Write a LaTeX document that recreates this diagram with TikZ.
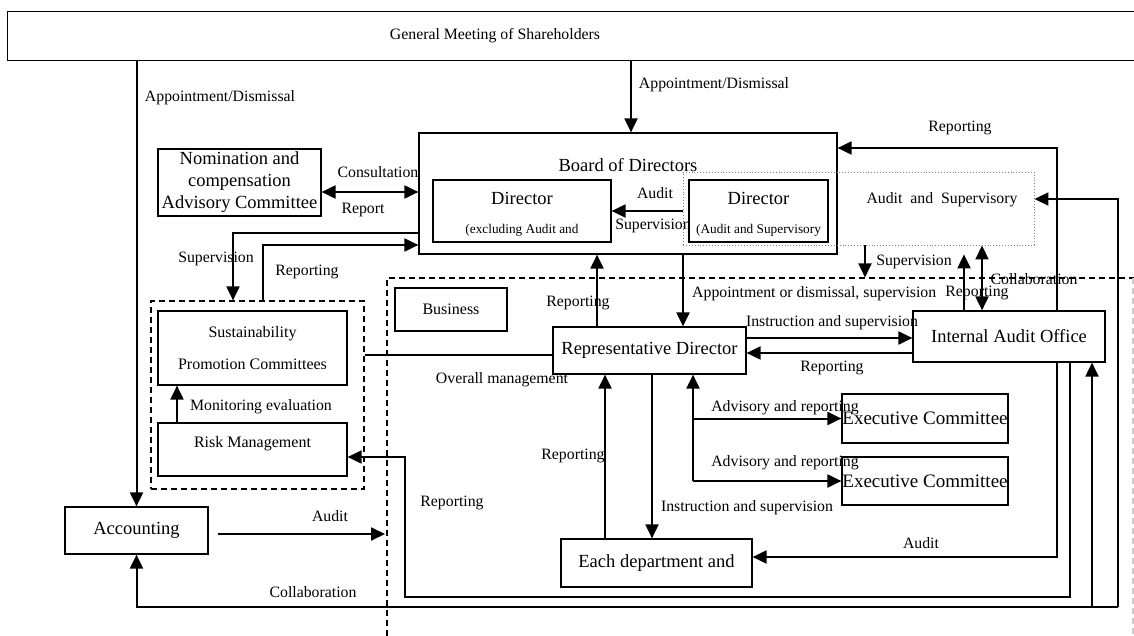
\documentclass[tikz,border=0pt]{standalone}
\usepackage{fontspec}
\setmainfont{Liberation Serif}
\usetikzlibrary{arrows.meta,positioning}

\tikzset{
  box/.style={draw, line width=1.2pt, fill=white, inner sep=0pt, align=center},
  big/.style={inner sep=0pt, font=\fontsize{18.5}{22}\selectfont, align=center},
  mid/.style={inner sep=0pt, font=\fontsize{16}{19}\selectfont},
  small/.style={inner sep=0pt, font=\fontsize{13.3}{16}\selectfont},
  lbl/.style={inner sep=0pt, font=\fontsize{15.8}{19}\selectfont},
  tip/.tip={Triangle[length=14pt,width=13pt]},
  arr/.style={line width=2pt, -tip},
  dbl/.style={line width=2pt, tip-tip},
  link/.style={line width=2pt},
  region/.style={line width=1.1pt, dash pattern=on 6pt off 4pt},
}

\begin{document}
\begin{tikzpicture}[x=1pt,y=-1pt]
\useasboundingbox[fill=white] (0,0) rectangle (1134,636);

\draw[region] (387,636) -- (387,278) -- (1134,278);
\draw[region, gray!40] (1133,278) -- (1133,636);

\node[box, anchor=north west, minimum width=1140pt, minimum height=49pt] (gms) at (7,11) {};
\node[lbl] (gmstxt) at (495,36) {General Meeting of Shareholders};

\node[box, minimum width=418pt, minimum height=121pt] (board) at (628,193.5) {};
\node[big] (boardtxt) at (628,165) {Board of Directors};
\node[box, minimum width=178pt, minimum height=62pt] (dirx) at (522,211) {};
\node[big] (dirxtxt) at (522,198) {Director};
\node[small] (dirxsub) at (522,230) {(excluding Audit and};
\node[box, minimum width=139pt, minimum height=62pt] (dira) at (758.5,211) {};
\node[big] (diratxt) at (758.5,198) {Director};
\node[small] (dirasub) at (758.5,230) {(Audit and Supervisory};
\node[draw=gray, dotted, line width=0.9pt, inner sep=0pt, minimum width=351pt, minimum height=73pt] (asbox) at (858.5,208.5) {};
\node[lbl] (astxt) at (942,200) {Audit\enspace and\enspace Supervisory};

\node[box, big, minimum width=163pt, minimum height=67pt] (nom) at (239.5,182.5) {Nomination and\\compensation\\Advisory Committee};

\node[draw, region, line width=1.2pt, inner sep=0pt, minimum width=213pt, minimum height=188pt] (grp) at (257.5,395) {};
\node[box, font=\fontsize{16}{32}\selectfont, minimum width=189pt, minimum height=74pt] (sus) at (252.5,348) {Sustainability\\Promotion Committees};
\node[box, minimum width=189pt, minimum height=53pt] (risk) at (252.5,449.5) {};
\node[mid] (risktxt) at (252.5,444) {Risk Management};

\node[box, big, minimum width=143pt, minimum height=47pt] (acc) at (136.5,530.5) {Accounting};
\node[box, mid, minimum width=112pt, minimum height=43pt] (bus) at (451,309.5) {Business};
\node[box, big, minimum width=193pt, minimum height=47pt] (rep) at (649.5,350.5) {Representative Director};
\node[box, big, minimum width=192pt, minimum height=51pt] (iao) at (1009,336.5) {Internal Audit Office};
\node[box, font=\fontsize{19}{22}\selectfont, minimum width=166pt, minimum height=49pt] (exe1) at (925,418.5) {Executive Committee};
\node[box, font=\fontsize{19}{22}\selectfont, minimum width=166pt, minimum height=48pt] (exe2) at (925,481) {Executive Committee};
\node[box, big, minimum width=191pt, minimum height=48pt] (dept) at (656.5,563) {Each department and};

\coordinate (br) at (1118,607);
\coordinate (rk) at (405,597);
\coordinate (adv) at (693,481);
\coordinate (aud) at (385,534);

\draw[arr] (acc.north |- gms.south) -- (acc.north);
\draw[arr] ([xshift=3pt]board.north |- gms.south) -- ([xshift=3pt]board.north);
\draw[dbl] ([yshift=-9.5pt]nom.east) -- ([yshift=-9.5pt]nom.east -| board.west);
\draw[arr] ([yshift=-39.5pt]board.west) -| ([xshift=-24.5pt]grp.north);
\draw[arr] ([xshift=5.5pt]grp.north) |- ([yshift=-51.5pt]board.west);
\draw[arr] (asbox.west |- dirx.east) -- (dirx.east);
\draw[arr] ([xshift=48pt]iao.north) |- ([yshift=45.5pt]board.east);
\draw[arr] (br) |- ([yshift=9.5pt]asbox.east);
\draw[arr] (br) -| (acc.south);
\draw[arr] ([xshift=83pt]iao.south |- br) -- ([xshift=83pt]iao.south);
\draw[arr] ([xshift=61pt]iao.south) |- (rk) |- ([yshift=-7.5pt]risk.east);
\draw[arr] ([xshift=48pt]iao.south) |- ([yshift=6pt]dept.east);
\draw[arr] ([xshift=-45pt]iao.north) -- ++(0,-56);
\draw[dbl] ([xshift=-27pt]iao.north) -- ([xshift=-27pt]iao.north |- asbox.south);
\draw[arr] ([xshift=6.5pt]asbox.south) -- ++(0,32);
\draw[arr] ([xshift=33.5pt]rep.north |- board.south) -- ([xshift=33.5pt]rep.north);
\draw[arr] ([xshift=-52.5pt]rep.north) -- ([xshift=-52.5pt]rep.north |- board.south);
\draw[link] ([yshift=-4pt]rep.west -| grp.east) -- ([yshift=-4pt]rep.west);
\draw[arr] ([yshift=12.5pt]rep.east) -- ([yshift=12.5pt]rep.east -| iao.west);
\draw[arr] ([yshift=-2.5pt]rep.east -| iao.west) -- ([yshift=-2.5pt]rep.east);
\draw[arr] ([xshift=-51.5pt]dept.north) -- ([xshift=-51.5pt]dept.north |- rep.south);
\draw[arr] ([xshift=2.5pt]rep.south) -- ([xshift=2.5pt]rep.south |- dept.north);
\draw[arr] (adv) -- (adv |- rep.south);
\draw[arr] (adv |- exe1.west) -- (exe1.west);
\draw[arr] (adv) -- (exe2.west);
\draw[arr] ([xshift=-75.5pt]risk.north) -- ([xshift=-75.5pt]risk.north |- sus.south);
\draw[arr] ([shift={(9pt,-3.5pt)}]acc.east) -- (aud);

\node[lbl] (appt1) at (220,98) {Appointment/Dismissal};
\node[lbl] (appt2) at (714,85) {Appointment/Dismissal};
\node[lbl] (consult) at (378,172) {Consultation};
\node[lbl] (report) at (363,210) {Report};
\node[lbl] (supv1) at (216,259) {Supervision};
\node[lbl] (rptg1) at (307,272) {Reporting};
\node[lbl] (audit1) at (655,193) {Audit};
\node[lbl] (supv2) at (653,226) {Supervision};
\node[lbl] (rptg2) at (960,128) {Reporting};
\node[lbl] (supv3) at (914,262) {Supervision};
\node[lbl] (collab1) at (1034,279) {Collaboration};
\node[lbl, anchor=west] (apptsup) at (692,294) {Appointment or dismissal, supervision};
\node[lbl] (rptg3) at (977,293) {Reporting};
\node[lbl] (rptg4) at (578,303) {Reporting};
\node[lbl] (overall) at (502,380) {Overall management};
\node[lbl] (instr1) at (832,323) {Instruction and supervision};
\node[lbl] (rptg5) at (832,368) {Reporting};
\node[lbl] (advis1) at (785,408) {Advisory and reporting};
\node[lbl] (advis2) at (785,463) {Advisory and reporting};
\node[lbl] (rptg6) at (573,456) {Reporting};
\node[lbl] (instr2) at (747,508) {Instruction and supervision};
\node[lbl] (rptg7) at (452,503) {Reporting};
\node[lbl] (monit) at (261,407) {Monitoring evaluation};
\node[lbl] (audit2) at (330,516) {Audit};
\node[lbl] (collab2) at (313,592) {Collaboration};
\node[lbl] (audit3) at (921,543) {Audit};
\end{tikzpicture}
\end{document}
